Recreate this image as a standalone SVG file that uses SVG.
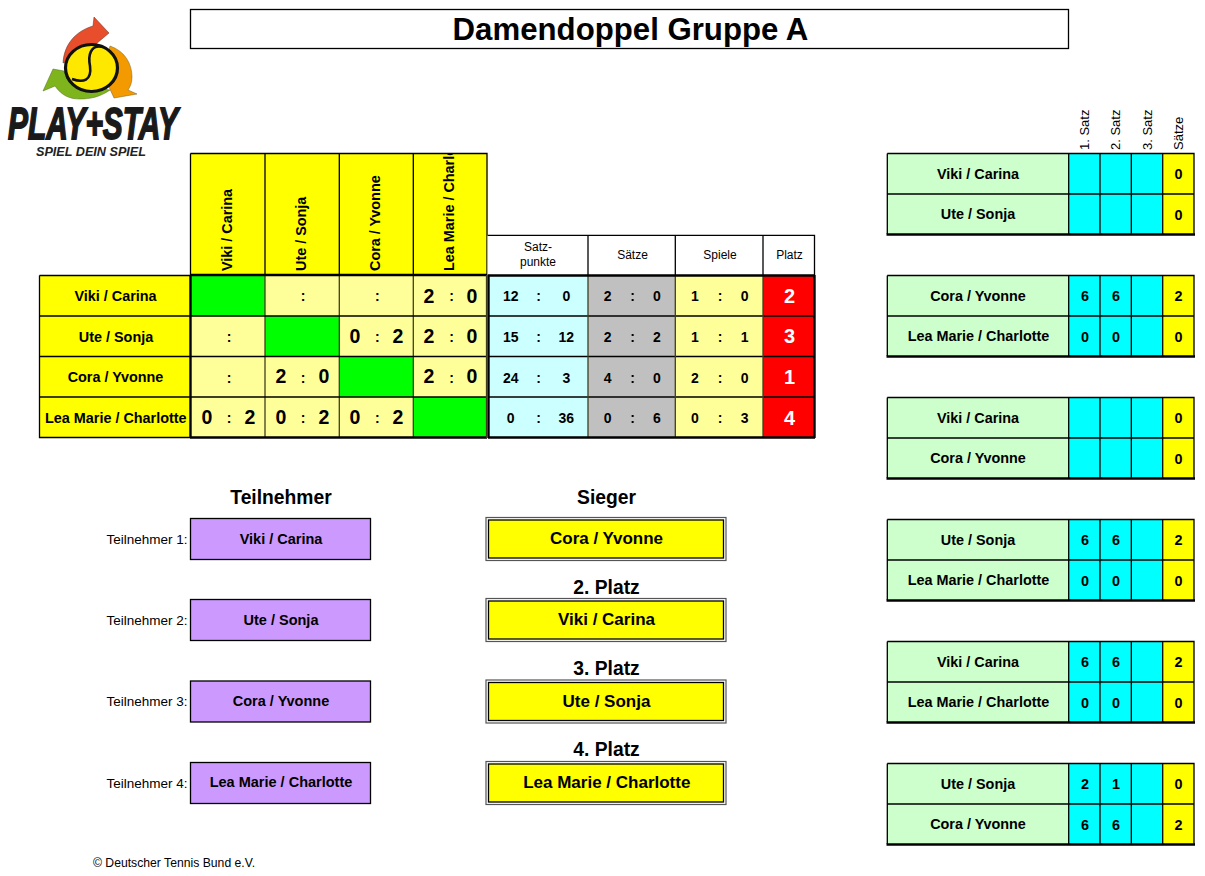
<svg xmlns="http://www.w3.org/2000/svg" width="1205" height="876" viewBox="0 0 1205 876">
<style>
text{font-family:"Liberation Sans",Arial,sans-serif;fill:#000}
.b{font-weight:bold}.m{text-anchor:middle}
.n{font-size:14.4px;font-weight:bold;text-anchor:middle}
.s{font-size:19.5px;font-weight:bold;text-anchor:middle}
.c{font-size:14px;font-weight:bold;text-anchor:middle}
.h{font-size:12px;text-anchor:middle}
.r{font-size:13px}
.hd{font-size:19.3px;font-weight:bold;text-anchor:middle}
.w{font-size:17px;font-weight:bold;text-anchor:middle}
.p{font-size:20px;font-weight:bold;text-anchor:middle;fill:#fff}
.l{stroke:#000;stroke-width:1.3;fill:none}
.g{stroke:#3f3f20;stroke-width:1.3;fill:none}
.t{stroke:#000;stroke-width:2.4;fill:none}
.y{fill:#ff0}.ly{fill:#ff9}.gn{fill:#0f0}.cy{fill:#cff}.gy{fill:#c0c0c0}.rd{fill:#f00}.mt{fill:#cfc}.aq{fill:#0ff}.pu{fill:#c9f}
.box{stroke:#000;stroke-width:1.3}
.dbl{fill:none;stroke:#555;stroke-width:1.2}
</style>
<defs>
<clipPath id="hclip"><rect x="190" y="154" width="297" height="121"/></clipPath>
<g id="pair">
<rect x="887" y="0" width="182" height="81" class="mt"/>
<rect x="1069" y="0" width="94" height="81" class="aq"/>
<rect x="1163" y="0" width="31" height="81" class="y"/>
<path class="l" d="M887.300 .5H1194V81M887.300 .5V81M887 41H1194M1068.700 0V81M1100 0V81M1131.300 0V81M1162.700 0V81"/>
<path class="t" d="M886.500 81.500H1195"/>
</g>
</defs>

<g id="logo">
<path fill="#e84e2c" stroke="#5a3020" stroke-width=".5" d="M63 63C64 44 76 31 93 26L94 17L109 33L96 44L90 50L70 60Z"/>
<path fill="#f39a00" stroke="#7a5a20" stroke-width=".5" d="M110 46C125 51 132 64 132 77C132 83 130 87 128 90L137 94L114 98L109 87L100 80Z"/>
<path fill="#7fb51c" stroke="#506a20" stroke-width=".5" d="M43 91L53 69L64 71L75 85L110 90C100 97 90 99 80 99C70 99 62 96 55 86Z"/>
<ellipse cx="91.500" cy="68" rx="26" ry="23.500" fill="#ffe800" stroke="#111" stroke-width="3.200"/>
<path d="M103 47C90 44 88 56 90 66C92 81 83 83 72 79" fill="none" stroke="#111" stroke-width="2.600"/>
<text x="8" y="139" font-size="44" font-weight="bold" font-style="italic" textLength="170" lengthAdjust="spacingAndGlyphs" style="fill:#1a1a1a;stroke:#1a1a1a;stroke-width:1.800">PLAY+STAY</text>
<text x="36" y="156" font-size="12.500" font-weight="bold" font-style="italic" textLength="110" lengthAdjust="spacingAndGlyphs" style="fill:#222">SPIEL DEIN SPIEL</text>
</g>

<g id="title">
<rect x="190.500" y="9.500" width="878" height="39" fill="#fff" class="box"/>
<text x="630.500" y="40" font-size="31.200" class="b m">Damendoppel Gruppe A</text>
</g>

<g id="matrix-header">
<rect x="190" y="153" width="297" height="122" class="y"/>
<path class="l" d="M190.500 153.500H487V275M190.500 153.500V275M265 153.500V275M339.300 153.500V275M413.300 153.500V275"/>
<g clip-path="url(#hclip)">
<text class="n" style="text-anchor:start" transform="translate(232 271) rotate(-90)">Viki / Carina</text>
<text class="n" style="text-anchor:start" transform="translate(306 271) rotate(-90)">Ute / Sonja</text>
<text class="n" style="text-anchor:start" transform="translate(380.300 271) rotate(-90)">Cora / Yvonne</text>
<text class="n" style="text-anchor:start" transform="translate(454.300 271) rotate(-90)">Lea Marie / Charlotte</text>
</g>
</g>

<g id="matrix-names">
<rect x="39" y="275" width="151" height="163" class="y"/>
<path class="l" d="M39.500 275.500H190M39.500 275.500V437.500H190M39.500 316H190M39.500 356.500H190M39.500 397H190"/>
<text class="n" x="115.500" y="301">Viki / Carina</text>
<text class="n" x="116" y="341.700">Ute / Sonja</text>
<text class="n" x="115.500" y="382">Cora / Yvonne</text>
<text class="n" x="115.800" y="422.700">Lea Marie / Charlotte</text>
</g>

<g id="matrix-cells">
<rect x="190" y="275" width="297" height="163" class="ly"/>
<rect x="191" y="276" width="74" height="40" class="gn"/>
<rect x="265" y="316" width="74" height="40.500" class="gn"/>
<rect x="339" y="356.500" width="74" height="40.500" class="gn"/>
<rect x="413" y="397" width="74" height="41" class="gn"/>
<path class="g" d="M265 275V438M339.300 275V438M413.300 275V438"/>
<path class="l" d="M190 316H487M190 356.500H487M190 397H487"/>
<path class="t" d="M190 275H487M190.500 275V438M190 437.500H487"/>
<path class="g" d="M486.500 275V438"/>
<text class="c" x="303" y="301">:</text>
<text class="c" x="377.300" y="301">:</text>
<text class="s" x="429" y="302.500">2</text><text class="c" x="451.700" y="301">:</text><text class="s" x="472" y="302.500">0</text>
<text class="c" x="229" y="342">:</text>
<text class="s" x="355" y="342.500">0</text><text class="c" x="377.300" y="342">:</text><text class="s" x="398" y="342.500">2</text>
<text class="s" x="429" y="342.500">2</text><text class="c" x="451.700" y="342">:</text><text class="s" x="472" y="342.500">0</text>
<text class="c" x="229" y="382.500">:</text>
<text class="s" x="281" y="383">2</text><text class="c" x="303" y="382.500">:</text><text class="s" x="324" y="383">0</text>
<text class="s" x="429" y="383">2</text><text class="c" x="451.700" y="382.500">:</text><text class="s" x="472" y="383">0</text>
<text class="s" x="207" y="423.500">0</text><text class="c" x="229" y="423">:</text><text class="s" x="250" y="423.500">2</text>
<text class="s" x="281" y="423.500">0</text><text class="c" x="303" y="423">:</text><text class="s" x="324" y="423.500">2</text>
<text class="s" x="355" y="423.500">0</text><text class="c" x="377.300" y="423">:</text><text class="s" x="398" y="423.500">2</text>
</g>

<g id="stats-header">
<rect x="487.500" y="235" width="327" height="39.500" fill="#fff"/>
<path class="l" d="M487.500 235.300H814.500V275M588 235V275M675.300 235V275M763 235V275"/>
<text class="h" x="538" y="251">Satz-</text>
<text class="h" x="538" y="266">punkte</text>
<text class="h" x="632.500" y="258.500">Sätze</text>
<text class="h" x="720" y="258.500">Spiele</text>
<text class="h" x="789.500" y="259">Platz</text>
</g>

<g id="stats-table">
<rect x="488" y="275" width="100" height="163" class="cy"/>
<rect x="588" y="275" width="87.300" height="163" class="gy"/>
<rect x="675.300" y="275" width="87.700" height="163" class="ly"/>
<rect x="763" y="275" width="51.500" height="163" class="rd"/>
<path class="l" d="M488 316H814M488 356.500H814M488 397H814"/>
<path class="g" d="M588 275V438M675.300 275V438M763 275V438"/>
<path class="t" d="M488 275.500H815M488.500 275V438M488 437.500H815M814.500 275V438"/>
<text class="c" x="510.700" y="301">12</text><text class="c" x="538.700" y="301">:</text><text class="c" x="566.300" y="301">0</text>
<text class="c" x="607.700" y="301">2</text><text class="c" x="632.700" y="301">:</text><text class="c" x="657" y="301">0</text>
<text class="c" x="695" y="301">1</text><text class="c" x="720" y="301">:</text><text class="c" x="744.700" y="301">0</text>
<text class="p" x="789.500" y="302.500">2</text>
<text class="c" x="510.700" y="342">15</text><text class="c" x="538.700" y="342">:</text><text class="c" x="566.300" y="342">12</text>
<text class="c" x="607.700" y="342">2</text><text class="c" x="632.700" y="342">:</text><text class="c" x="657" y="342">2</text>
<text class="c" x="695" y="342">1</text><text class="c" x="720" y="342">:</text><text class="c" x="744.700" y="342">1</text>
<text class="p" x="789.500" y="343">3</text>
<text class="c" x="510.700" y="382.500">24</text><text class="c" x="538.700" y="382.500">:</text><text class="c" x="566.300" y="382.500">3</text>
<text class="c" x="607.700" y="382.500">4</text><text class="c" x="632.700" y="382.500">:</text><text class="c" x="657" y="382.500">0</text>
<text class="c" x="695" y="382.500">2</text><text class="c" x="720" y="382.500">:</text><text class="c" x="744.700" y="382.500">0</text>
<text class="p" x="789.500" y="384">1</text>
<text class="c" x="510.700" y="423">0</text><text class="c" x="538.700" y="423">:</text><text class="c" x="566.300" y="423">36</text>
<text class="c" x="607.700" y="423">0</text><text class="c" x="632.700" y="423">:</text><text class="c" x="657" y="423">6</text>
<text class="c" x="695" y="423">0</text><text class="c" x="720" y="423">:</text><text class="c" x="744.700" y="423">3</text>
<text class="p" x="789.500" y="424.500">4</text>
</g>

<g id="set-headers" class="r">
<text transform="translate(1088.500 150) rotate(-90)">1. Satz</text>
<text transform="translate(1120 150) rotate(-90)">2. Satz</text>
<text transform="translate(1151.500 150) rotate(-90)">3. Satz</text>
<text transform="translate(1182.500 150) rotate(-90)">Sätze</text>
</g>

<g id="match-1" transform="translate(0 153)">
<use href="#pair"/>
<text class="n" x="978" y="25.500">Viki / Carina</text><text class="n" x="978" y="66">Ute / Sonja</text>
<text class="n" x="1178.500" y="26">0</text><text class="n" x="1178.500" y="66.500">0</text>
</g>
<g id="match-2" transform="translate(0 275)">
<use href="#pair"/>
<text class="n" x="978" y="25.500">Cora / Yvonne</text><text class="n" x="978.500" y="66">Lea Marie / Charlotte</text>
<text class="n" x="1085" y="26">6</text><text class="n" x="1116" y="26">6</text><text class="n" x="1178.500" y="26">2</text>
<text class="n" x="1085" y="66.500">0</text><text class="n" x="1116" y="66.500">0</text><text class="n" x="1178.500" y="66.500">0</text>
</g>
<g id="match-3" transform="translate(0 397)">
<use href="#pair"/>
<text class="n" x="978" y="25.500">Viki / Carina</text><text class="n" x="978" y="66">Cora / Yvonne</text>
<text class="n" x="1178.500" y="26">0</text><text class="n" x="1178.500" y="66.500">0</text>
</g>
<g id="match-4" transform="translate(0 519)">
<use href="#pair"/>
<text class="n" x="978" y="25.500">Ute / Sonja</text><text class="n" x="978.500" y="66">Lea Marie / Charlotte</text>
<text class="n" x="1085" y="26">6</text><text class="n" x="1116" y="26">6</text><text class="n" x="1178.500" y="26">2</text>
<text class="n" x="1085" y="66.500">0</text><text class="n" x="1116" y="66.500">0</text><text class="n" x="1178.500" y="66.500">0</text>
</g>
<g id="match-5" transform="translate(0 641)">
<use href="#pair"/>
<text class="n" x="978" y="25.500">Viki / Carina</text><text class="n" x="978.500" y="66">Lea Marie / Charlotte</text>
<text class="n" x="1085" y="26">6</text><text class="n" x="1116" y="26">6</text><text class="n" x="1178.500" y="26">2</text>
<text class="n" x="1085" y="66.500">0</text><text class="n" x="1116" y="66.500">0</text><text class="n" x="1178.500" y="66.500">0</text>
</g>
<g id="match-6" transform="translate(0 763)">
<use href="#pair"/>
<text class="n" x="978" y="25.500">Ute / Sonja</text><text class="n" x="978" y="66">Cora / Yvonne</text>
<text class="n" x="1085" y="26">2</text><text class="n" x="1116" y="26">1</text><text class="n" x="1178.500" y="26">0</text>
<text class="n" x="1085" y="66.500">6</text><text class="n" x="1116" y="66.500">6</text><text class="n" x="1178.500" y="66.500">2</text>
</g>

<g id="participants">
<text class="hd" x="281" y="504">Teilnehmer</text>
<g style="font-size:13.500px;text-anchor:end">
<text x="187.500" y="544">Teilnehmer 1:</text>
<text x="187.500" y="625">Teilnehmer 2:</text>
<text x="187.500" y="706">Teilnehmer 3:</text>
<text x="187.500" y="787.500">Teilnehmer 4:</text>
</g>
<rect x="190.500" y="518.500" width="180" height="41" class="pu box"/>
<rect x="190.500" y="599.500" width="180" height="41" class="pu box"/>
<rect x="190.500" y="681" width="180" height="41" class="pu box"/>
<rect x="190.500" y="762.500" width="180" height="41" class="pu box"/>
<text x="281" y="543.500" style="font-size:14.500px" class="n">Viki / Carina</text>
<text x="281" y="624.500" style="font-size:14.500px" class="n">Ute / Sonja</text>
<text x="281" y="706" style="font-size:14.500px" class="n">Cora / Yvonne</text>
<text x="281" y="787" style="font-size:14.500px" class="n">Lea Marie / Charlotte</text>
</g>

<g id="placings">
<text class="hd" x="606.500" y="504">Sieger</text>
<text class="hd" x="606.500" y="593.500">2. Platz</text>
<text class="hd" x="606.500" y="674.500">3. Platz</text>
<text class="hd" x="606.500" y="755.500">4. Platz</text>
<rect x="486" y="517.500" width="240" height="43" class="dbl"/><rect x="488.500" y="520" width="235" height="38" class="y box"/>
<rect x="486" y="598.500" width="240" height="43" class="dbl"/><rect x="488.500" y="601" width="235" height="38" class="y box"/>
<rect x="486" y="680" width="240" height="43" class="dbl"/><rect x="488.500" y="682.500" width="235" height="38" class="y box"/>
<rect x="486" y="761.500" width="240" height="43" class="dbl"/><rect x="488.500" y="764" width="235" height="38" class="y box"/>
<text class="w" x="606.500" y="544">Cora / Yvonne</text>
<text class="w" x="606.500" y="625">Viki / Carina</text>
<text class="w" x="606.500" y="706.500">Ute / Sonja</text>
<text class="w" x="606.800" y="788">Lea Marie / Charlotte</text>
</g>

<text id="footer" x="93" y="867" font-size="12.200">© Deutscher Tennis Bund e.V.</text>
</svg>
